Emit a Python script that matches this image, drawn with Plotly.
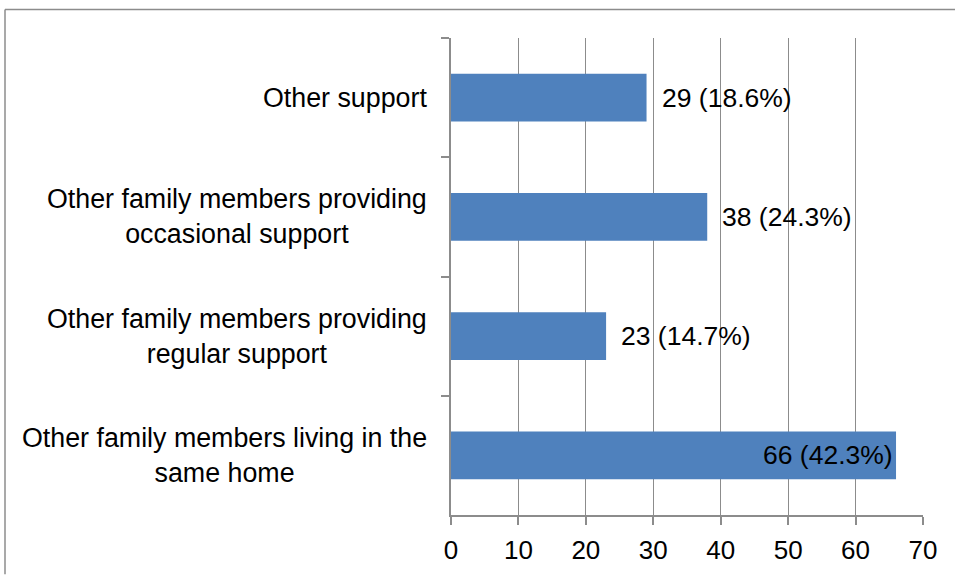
import plotly.graph_objects as go

# Support sources, listed top to bottom
categories = [
    "Other support",
    "Other family members providing<br>occasional support",
    "Other family members providing<br>regular support",
    "Other family members living in the<br>same home",
]
counts = [29, 38, 23, 66]
percents = [18.6, 24.3, 14.7, 42.3]
x_ticks = [0, 10, 20, 30, 40, 50, 60, 70]

BAR_BLUE = "#4F81BD"
GRID = "#8C8C8C"
FONT = "Liberation Sans, Arial, sans-serif"

W, H = 955, 577
L, R, T, B = 451, 32, 38, 55

fig = go.Figure()
fig.add_trace(go.Bar(
    x=counts,
    y=categories,
    orientation="h",
    marker=dict(color=BAR_BLUE, line=dict(width=0)),
    hoverinfo="skip",
))

annotations = []
# value labels: outside the bar end, except the long bar which holds its label inside
for cat, n, p in zip(categories, counts, percents):
    inside = n > 60
    annotations.append(dict(
        x=n, y=cat, xref="x", yref="y",
        text=f"{n} ({p}%)",
        showarrow=False,
        xanchor="right" if inside else "left",
        xshift=-1 if inside else 13,
        font=dict(family=FONT, size=26.5, color="black"),
    ))
# category labels, centred lines in a right-aligned block
for cat in categories:
    annotations.append(dict(
        x=0, y=cat, xref="paper", yref="y",
        text=cat,
        showarrow=False,
        xanchor="right", align="center",
        xshift=-22,
        font=dict(family=FONT, size=26.8, color="black"),
    ))

plot_w = W - L - R
plot_h = H - T - B
# outer chart frame (top and left edges visible)
frame_x0 = (5 - L) / plot_w
frame_y0 = (H - B - 9) / plot_h
shapes = [
    dict(type="line", xref="paper", yref="paper",
         x0=frame_x0, x1=(W + 5 - L) / plot_w, y0=frame_y0, y1=frame_y0,
         line=dict(color=GRID, width=1.5)),
    dict(type="line", xref="paper", yref="paper",
         x0=frame_x0, x1=frame_x0, y0=frame_y0, y1=-(B + 5) / plot_h,
         line=dict(color=GRID, width=1.5)),
]

fig.update_layout(
    width=W, height=H,
    margin=dict(l=L, r=R, t=T, b=B, pad=0),
    paper_bgcolor="white", plot_bgcolor="white",
    bargap=0.6,
    showlegend=False,
    annotations=annotations,
    shapes=shapes,
    font=dict(family=FONT, color="black"),
)
fig.update_xaxes(
    range=[0, 70],
    tickvals=x_ticks,
    ticktext=[str(v) for v in x_ticks],
    showgrid=True, gridcolor=GRID, gridwidth=1,
    zeroline=False,
    showline=True, linecolor=GRID, linewidth=1.5,
    ticks="outside", ticklen=8, tickcolor=GRID, tickwidth=1.5,
    tickfont=dict(family=FONT, size=26, color="black"),
    ticklabelstandoff=3,
)
fig.update_yaxes(
    type="category",
    range=[3.5, -0.5],
    tickson="boundaries",
    showticklabels=False,
    showgrid=False, zeroline=False,
    showline=True, linecolor=GRID, linewidth=1.5,
    ticks="outside", ticklen=8, tickcolor=GRID, tickwidth=1.5,
)

fig.write_html("out.html")
